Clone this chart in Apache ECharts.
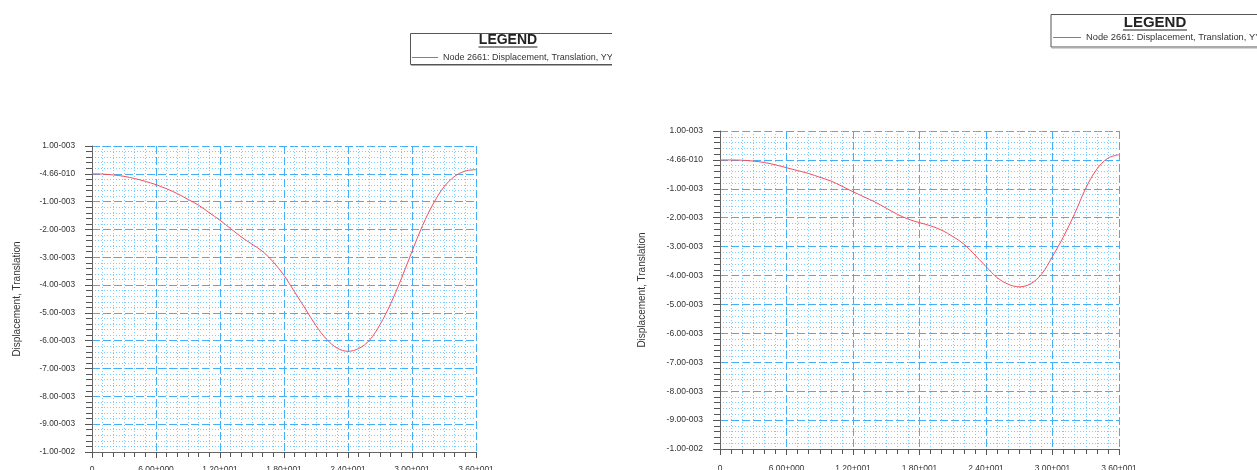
<!DOCTYPE html>
<html>
<head>
<meta charset="utf-8">
<script src="https://cdn.jsdelivr.net/npm/echarts@6/dist/echarts.min.js"></script>
<style>
  html, body { margin: 0; padding: 0; background: #fff; }
  #wrap { position: relative; width: 1257px; height: 470px; overflow: hidden; }
  .panel { position: absolute; top: 0; height: 470px; overflow: hidden; }
  .panel > div { position: absolute; left: 0; top: 0; height: 490px; }
  #left { left: 0; width: 612px; }
  #right { left: 612px; width: 645px; }
  #leftChart { width: 612px; }
  #rightChart { width: 645px; }
</style>
</head>
<body>
<div id="wrap">
  <div id="left" class="panel"><div id="leftChart"></div></div>
  <div id="right" class="panel"><div id="rightChart"></div></div>
</div>
<script>
// Time/step positions shared by both result plots
const xPositions = [0, 1, 2, 3, 4, 5, 6, 7, 8, 9, 10, 11, 12, 13, 14, 15, 16, 17, 18,
  19, 20, 21, 22, 23, 24, 25, 26, 27, 28, 29, 30, 31, 32, 33, 34, 35, 36];

// Node 2661 YY translation, first load case
const dispCaseA = [0, -0.01e-3, -0.04e-3, -0.09e-3, -0.17e-3, -0.27e-3, -0.39e-3, -0.54e-3,
  -0.71e-3, -0.92e-3, -1.13e-3, -1.40e-3, -1.67e-3, -1.97e-3, -2.27e-3, -2.53e-3, -2.79e-3,
  -3.17e-3, -3.65e-3, -4.25e-3, -4.85e-3, -5.46e-3, -5.95e-3, -6.27e-3, -6.38e-3, -6.28e-3,
  -5.99e-3, -5.42e-3, -4.67e-3, -3.77e-3, -2.79e-3, -1.85e-3, -1.07e-3, -0.47e-3, -0.09e-3,
  0.10e-3, 0.15e-3];

// Node 2661 YY translation, second load case
const dispCaseB = [0, -0.003e-3, -0.01e-3, -0.04e-3, -0.09e-3, -0.17e-3, -0.27e-3, -0.37e-3,
  -0.47e-3, -0.60e-3, -0.73e-3, -0.91e-3, -1.10e-3, -1.28e-3, -1.46e-3, -1.67e-3, -1.88e-3,
  -2.05e-3, -2.17e-3, -2.28e-3, -2.43e-3, -2.65e-3, -2.91e-3, -3.29e-3, -3.69e-3, -4.07e-3,
  -4.30e-3, -4.39e-3, -4.29e-3, -3.96e-3, -3.34e-3, -2.65e-3, -1.86e-3, -0.98e-3, -0.32e-3,
  0.06e-3, 0.18e-3];

// Axis tick labels as printed by the post-processor
const xTickLabels = ['0', '6.00+000', '1.20+001', '1.80+001', '2.40+001', '3.00+001', '3.60+001'];
const yTickLabels = ['-1.00-002', '-9.00-003', '-8.00-003', '-7.00-003', '-6.00-003', '-5.00-003',
  '-4.00-003', '-3.00-003', '-2.00-003', '-1.00-003', '-4.66-010', '1.00-003'];

const seriesName = 'Node 2661: Displacement, Translation, YY';
const yAxisTitle = 'Displacement, Translation';

const X_MIN = 0, X_MAX = 36, X_STEP = 6;
const Y_MIN = -0.010, Y_MAX = 0.001, Y_STEP = 0.001;
const FONT = '"Liberation Sans", Arial, Helvetica, sans-serif';

function buildChart(el, values, L) {
  const chart = echarts.init(el, null, { renderer: 'canvas' });
  const majorGrid = { show: true, lineStyle: { color: '#45aef5', width: 1, type: [8, 3] } };
  const minorGrid = { show: true, lineStyle: { color: '#7ccaff', width: 1, type: [1, 2] } };
  chart.setOption({
    animation: false,
    backgroundColor: '#fff',
    textStyle: { fontFamily: FONT },
    grid: {
      left: L.gridLeft, top: L.gridTop, width: L.gridWidth, height: L.gridHeight,
      containLabel: false, outerBoundsMode: 'none'
    },
    legend: {
      left: L.legendLeft, top: L.legendTop, padding: 0,
      icon: 'rect', itemWidth: L.legendItemWidth, itemHeight: 1,
      textStyle: { fontSize: L.legendFont, color: '#333', fontFamily: FONT },
      data: [seriesName]
    },
    xAxis: {
      type: 'value', min: X_MIN, max: X_MAX, interval: X_STEP,
      axisLine: { show: true, onZero: false, lineStyle: { color: '#666', width: 1 } },
      axisTick: { show: true, length: 6, lineStyle: { color: '#555' } },
      minorTick: { show: true, splitNumber: 6, length: 5, lineStyle: { color: '#555' } },
      splitLine: majorGrid,
      minorSplitLine: minorGrid,
      axisLabel: {
        margin: L.xLabelMargin, fontSize: L.xLabelFont, color: '#333', fontFamily: FONT,
        formatter: v => xTickLabels[Math.round((v - X_MIN) / X_STEP)] || ''
      }
    },
    yAxis: {
      type: 'value', min: Y_MIN, max: Y_MAX, interval: Y_STEP,
      name: yAxisTitle, nameLocation: 'middle', nameGap: L.nameGap, nameRotate: 90,
      nameTextStyle: { fontSize: 10, color: '#333', fontFamily: FONT },
      axisLine: { show: true, onZero: false, lineStyle: { color: '#666', width: 1 } },
      axisTick: { show: true, length: 7, lineStyle: { color: '#555' } },
      minorTick: { show: true, splitNumber: 5, length: 6, lineStyle: { color: '#555' } },
      splitLine: majorGrid,
      minorSplitLine: minorGrid,
      axisLabel: {
        margin: 17, fontSize: L.yLabelFont, color: '#333', fontFamily: FONT,
        formatter: v => yTickLabels[Math.round((v - Y_MIN) / Y_STEP)] || ''
      }
    },
    series: [{
      name: seriesName, type: 'line', smooth: 0.35, showSymbol: false,
      data: xPositions.map((x, i) => [x, values[i]]),
      lineStyle: { color: '#f0505f', width: 1 },
      itemStyle: { color: '#f0505f' },
      z: 5
    }],
    graphic: [
      // legend frame
      { type: 'rect', shape: { x: L.boxX + 0.5, y: L.boxY + 0.5, width: 400, height: L.boxH },
        style: { fill: 'none', stroke: '#555', lineWidth: 1 }, silent: true },
      { type: 'line', shape: { x1: L.boxX + 1, y1: L.boxY + L.boxH + 1.5, x2: L.boxX + 400, y2: L.boxY + L.boxH + 1.5 },
        style: { stroke: '#aaa', lineWidth: 1 }, silent: true },
      // legend title with underline
      { type: 'text', x: L.titleX, y: L.titleY,
        style: { text: 'LEGEND', fontSize: L.titleFont, fontWeight: 'bold', fontFamily: FONT, fill: '#222',
          align: 'center', verticalAlign: 'middle' }, silent: true },
      { type: 'line', shape: { x1: L.titleX - L.titleHalfW, y1: L.underlineY, x2: L.titleX + L.titleHalfW, y2: L.underlineY },
        style: { stroke: '#222', lineWidth: 1 }, silent: true }
    ]
  });
  return chart;
}

buildChart(document.getElementById('leftChart'), dispCaseA, {
  gridLeft: 92, gridTop: 146, gridWidth: 384, gridHeight: 306,
  legendLeft: 412, legendTop: 53, legendItemWidth: 26, legendFont: 9,
  xLabelMargin: 13, xLabelFont: 8.5, yLabelFont: 8.3, nameGap: 70,
  boxX: 410, boxY: 33, boxH: 31,
  titleX: 508, titleY: 40.5, titleFont: 14, titleHalfW: 29.5, underlineY: 47
});

buildChart(document.getElementById('rightChart'), dispCaseB, {
  gridLeft: 108, gridTop: 131, gridWidth: 399, gridHeight: 318,
  legendLeft: 441, legendTop: 33, legendItemWidth: 28, legendFont: 9.3,
  xLabelMargin: 15, xLabelFont: 8.5, yLabelFont: 8.5, nameGap: 73,
  boxX: 438.5, boxY: 14, boxH: 32.5,
  titleX: 543, titleY: 23, titleFont: 15, titleHalfW: 32, underlineY: 30
});
</script>
</body>
</html>
